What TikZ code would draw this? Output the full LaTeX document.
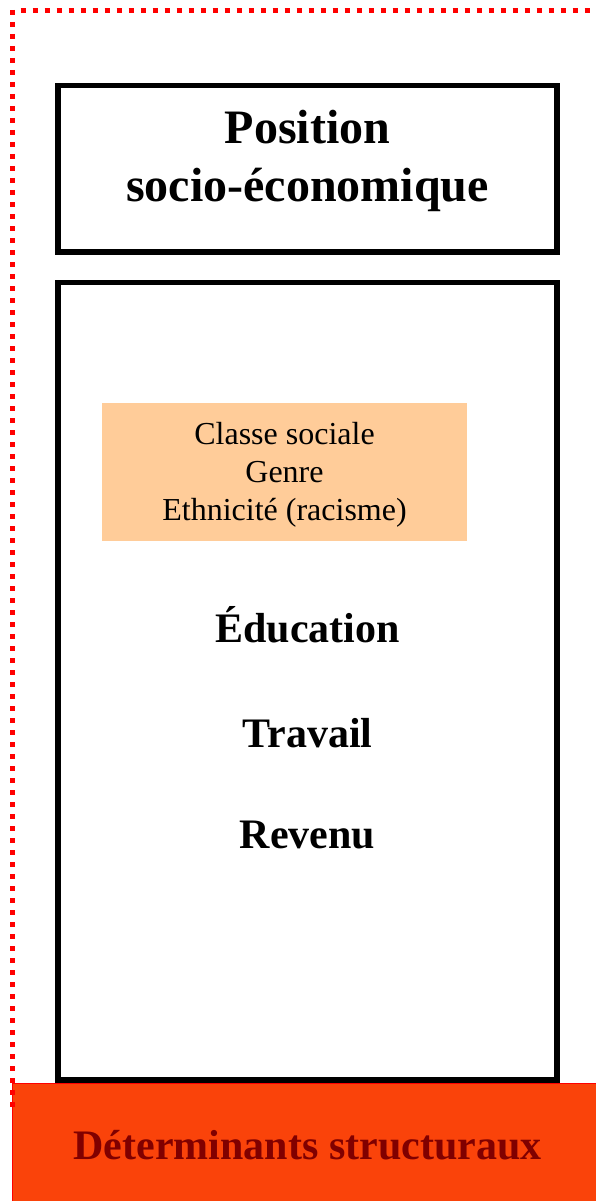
\documentclass[tikz,border=0pt]{standalone}
\usepackage{fontspec}
\setmainfont{Liberation Serif}
\definecolor{peach}{RGB}{255,204,153}
\definecolor{struct}{RGB}{250,67,10}
\definecolor{maroon}{RGB}{128,0,0}
\definecolor{dotred}{RGB}{255,0,0}
\begin{document}
\begin{tikzpicture}[x=1pt,y=-1pt,
  framebox/.style={draw=black,line width=5.5pt,rectangle,inner sep=0pt},
  peachbox/.style={fill=peach,draw=none,rectangle,inner sep=0pt,minimum width=365pt,minimum height=138pt},
  structbox/.style={fill=struct,draw=dotred,line width=1pt,rectangle,inner sep=0pt},
  bigtitle/.style={font=\fontsize{48}{57}\selectfont\bfseries,anchor=base,inner sep=0pt},
  bigitem/.style={font=\fontsize{42}{50}\selectfont\bfseries,anchor=base,inner sep=0pt},
  smallitem/.style={font=\fontsize{32}{38}\selectfont,anchor=base,inner sep=0pt},
  dotborder/.style={draw=dotred,line width=5pt,dash pattern=on 5pt off 7pt}
]
\useasboundingbox (0,0) rectangle (595,1201);
\fill[white] (0,0) rectangle (595,1201);
% frames
\node[framebox,minimum width=499pt,minimum height=166.5pt] (posbox) at (307.5,168.75) {};
\node[framebox,minimum width=499pt,minimum height=797.5pt] (mainbox) at (307.5,681.25) {};
% title
\node[bigtitle] (t1) at (307.5,144) {Position};
\node[bigtitle] (t2) at (307.5,201) {socio-économique};
% peach box
\node[peachbox] (cats) at (284.5,472) {};
\node[smallitem] (c1) at (284.5,444) {Classe sociale};
\node[smallitem] (c2) at (284.5,482) {Genre};
\node[smallitem] (c3) at (284.5,520) {Ethnicité (racisme)};
% items
\node[bigitem] (edu) at (307.5,642) {Éducation};
\node[bigitem] (trav) at (307.5,747) {Travail};
\node[bigitem] (rev) at (307.5,848) {Revenu};
% structural determinants
\node[structbox,minimum width=590pt,minimum height=124pt] (struct) at (307,1145) {};
\node[bigitem,text=maroon] (structlabel) at (307.5,1159) {Déterminants structuraux};
% dotted border
\draw[dotborder] (20.5,10.5) -- (600,10.5);
\draw[dotborder] (12.5,10) -- (12.5,1112);
\end{tikzpicture}
\end{document}
